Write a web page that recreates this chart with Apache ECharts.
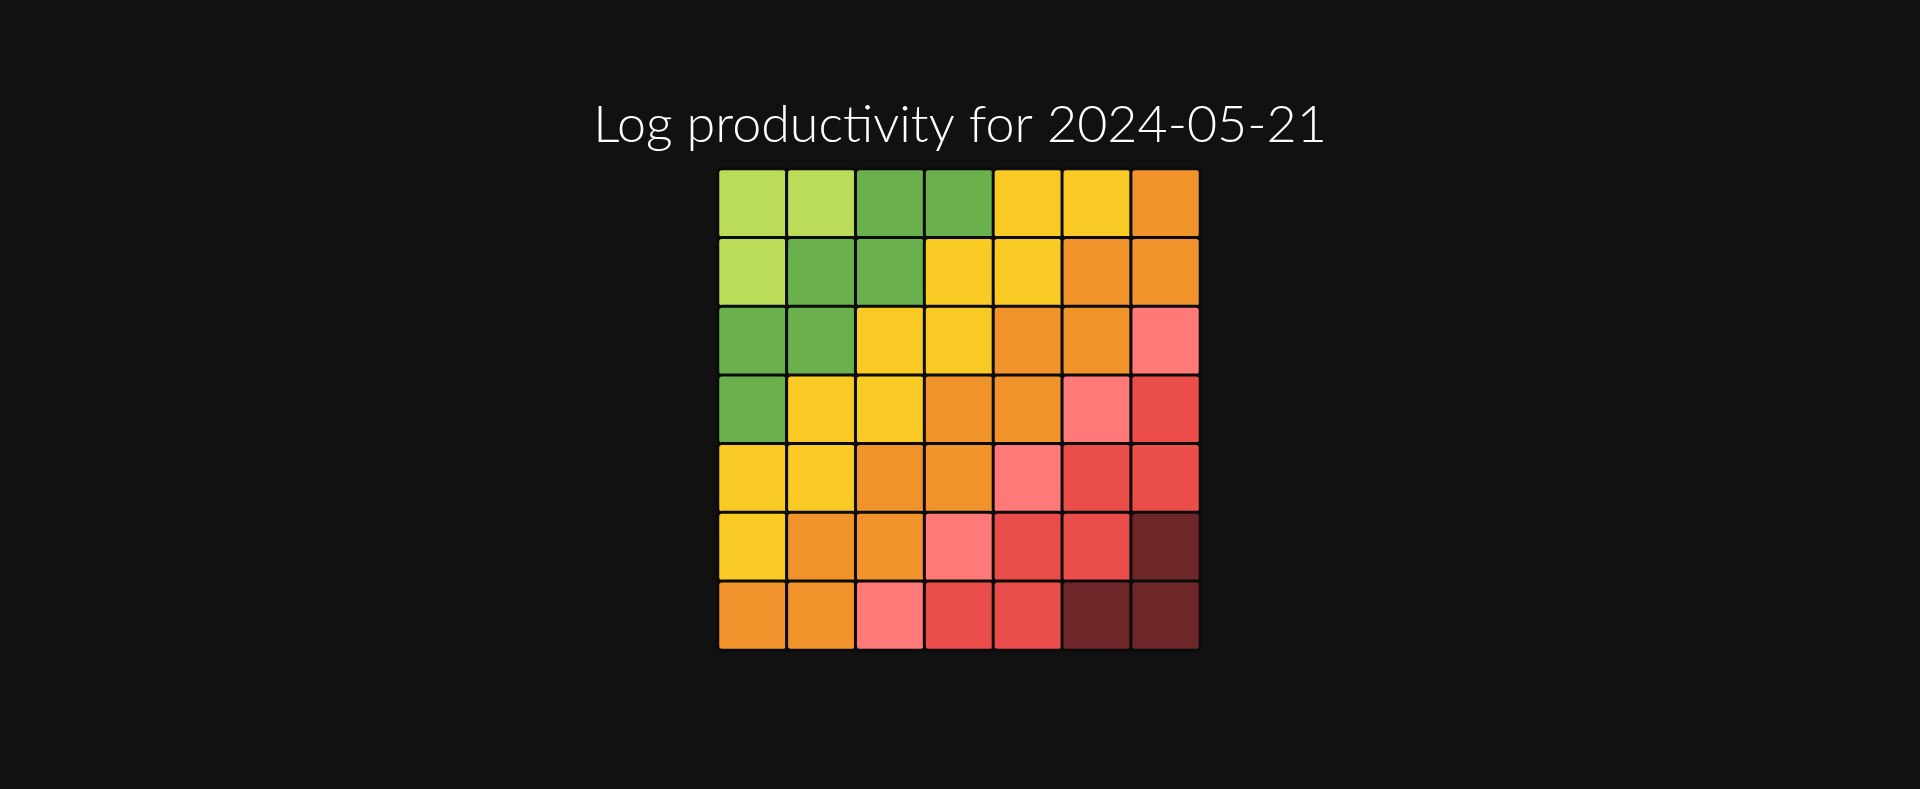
<!DOCTYPE html>
<html>
<head>
<meta charset="utf-8">
<script src="https://cdn.jsdelivr.net/npm/echarts@6/dist/echarts.min.js"></script>
<style>
html,body{margin:0;padding:0;background:#111111;}
#main{width:1920px;height:789px;}
</style>
</head>
<body>
<div id="main"></div>
<script>
const titleText = 'Log productivity for 2024-05-21';
const xCategories = ['0','1','2','3','4','5','6'];
const yCategories = ['0','1','2','3','4','5','6'];
// level per cell, row by row from top
const row0 = [0,0,1,1,2,2,3];
const row1 = [0,1,1,2,2,3,3];
const row2 = [1,1,2,2,3,3,4];
const row3 = [1,2,2,3,3,4,5];
const row4 = [2,2,3,3,4,5,5];
const row5 = [2,3,3,4,5,5,6];
const row6 = [3,3,4,5,5,6,6];
const levelColors = ['#badc58','#6ab04c','#f9ca24','#f0932b','#ff7979','#eb4d4b','#6d2729'];

const rows = [row0,row1,row2,row3,row4,row5,row6];
const data = [];
rows.forEach((r, yi) => r.forEach((v, xi) => data.push([xi, yi, v])));

const chart = echarts.init(document.getElementById('main'), null, {renderer:'canvas'});
chart.setOption({
  backgroundColor: '#111111',
  animation: false,
  title: {
    text: titleText,
    left: 'center',
    top: 94,
    textStyle: {color:'#ffffff', fontSize:52, fontWeight:300, fontFamily:'Lato'}
  },
  grid: {left:718, right:720, top:169, height:481},
  xAxis: {type:'category', data:xCategories, show:false},
  yAxis: {type:'category', data:yCategories, inverse:true, show:false},
  visualMap: {
    show:false,
    type:'piecewise',
    dimension:2,
    pieces: levelColors.map((c,i)=>({value:i, color:c}))
  },
  series: [{
    type:'heatmap',
    data: data,
    itemStyle: {borderColor:'#0b0b0b', borderWidth:3, borderRadius:4}
  }]
});
</script>
</body>
</html>
